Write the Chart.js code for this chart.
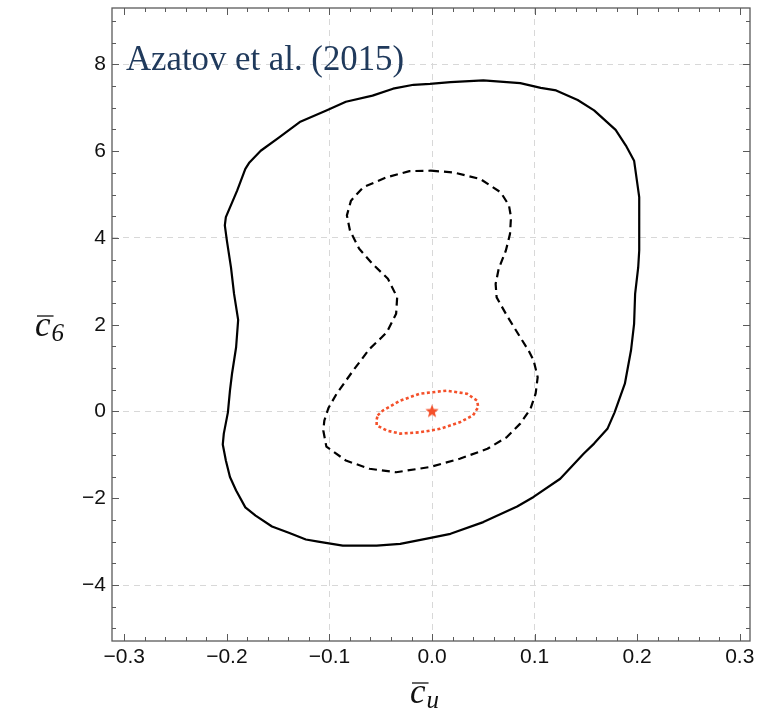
<!DOCTYPE html>
<html>
<head>
<meta charset="utf-8">
<script src="https://cdn.jsdelivr.net/npm/chart.js@4.4.1/dist/chart.umd.min.js"></script>
<style>
  html, body { margin: 0; padding: 0; background: #fff; }
</style>
</head>
<body>
<canvas id="contours" width="770" height="711"></canvas>
<script>
// ----- contour data (c_u, c_6) -----
const outerCu = [-0.002, 0.018, 0.050, 0.086, 0.106, 0.121, 0.142, 0.158, 0.179, 0.189, 0.197, 0.202, 0.202, 0.201, 0.198, 0.197, 0.194, 0.188, 0.178, 0.171, 0.158, 0.148, 0.125, 0.099, 0.083, 0.050, 0.018, -0.005, -0.031, -0.054, -0.087, -0.111, -0.123, -0.139, -0.156, -0.172, -0.182, -0.191, -0.197, -0.201, -0.204, -0.203, -0.199, -0.197, -0.195, -0.191, -0.189, -0.193, -0.196, -0.200, -0.202, -0.201, -0.190, -0.182, -0.178, -0.167, -0.149, -0.129, -0.103, -0.084, -0.058, -0.038, -0.018];
const outerC6 = [7.55, 7.59, 7.63, 7.57, 7.46, 7.40, 7.18, 6.94, 6.49, 6.13, 5.78, 4.94, 3.71, 3.32, 2.71, 2.02, 1.41, 0.64, -0.02, -0.40, -0.74, -0.97, -1.55, -1.97, -2.19, -2.55, -2.82, -2.93, -3.05, -3.09, -3.09, -3.00, -2.95, -2.80, -2.65, -2.40, -2.21, -1.82, -1.51, -1.13, -0.76, -0.51, -0.02, 0.48, 0.87, 1.48, 2.11, 2.71, 3.32, 3.94, 4.29, 4.48, 5.09, 5.59, 5.74, 6.01, 6.32, 6.67, 6.94, 7.14, 7.28, 7.44, 7.53];

const innerCu = [-0.001, 0.021, 0.047, 0.067, 0.075, 0.077, 0.076, 0.072, 0.065, 0.062, 0.063, 0.073, 0.086, 0.094, 0.099, 0.103, 0.101, 0.096, 0.086, 0.073, 0.054, 0.027, -0.002, -0.035, -0.061, -0.084, -0.103, -0.106, -0.105, -0.101, -0.093, -0.077, -0.061, -0.049, -0.044, -0.035, -0.034, -0.043, -0.058, -0.071, -0.080, -0.083, -0.079, -0.067, -0.044, -0.022];
const innerC6 = [5.55, 5.51, 5.36, 5.05, 4.75, 4.48, 4.09, 3.71, 3.29, 2.94, 2.63, 2.21, 1.71, 1.41, 1.18, 0.79, 0.41, 0.06, -0.28, -0.59, -0.86, -1.09, -1.28, -1.40, -1.32, -1.13, -0.81, -0.44, -0.21, 0.08, 0.41, 0.94, 1.44, 1.71, 1.83, 2.25, 2.63, 3.06, 3.40, 3.75, 4.17, 4.52, 4.86, 5.17, 5.40, 5.54];

const coreCu = [-0.053, -0.048, -0.031, -0.012, 0.014, 0.034, 0.044, 0.045, 0.040, 0.027, 0.008, -0.012, -0.031, -0.044, -0.054, -0.054];
const coreC6 = [-0.09, 0.02, 0.25, 0.41, 0.48, 0.41, 0.25, 0.10, -0.09, -0.25, -0.40, -0.48, -0.51, -0.44, -0.32, -0.19];

const bestCu = [0.0];
const bestC6 = [0.0];

// ----- axes -----
const xTicks = [-0.3, -0.2, -0.1, 0.0, 0.1, 0.2, 0.3];
const yTicks = [-4, -2, 0, 2, 4, 6, 8];
const xGrid  = [-0.1, 0.0, 0.1];
const yGrid  = [-4, 0, 4, 8];

const RED = '#f4502a';

function closedLoop(xs, ys) {
  const pts = xs.map(function(v, i) { return { x: v, y: ys[i] }; });
  pts.push(pts[0]);
  return pts;
}

function onGrid(v, list) {
  return list.some(function(g) { return Math.abs(g - v) < 1e-6; });
}

function minus(s) { return s.replace('-', '\u2212'); }

// filled five-pointed star used as the marker of the best fit point
function starImage(r, color) {
  const c = document.createElement('canvas');
  c.width = c.height = 2 * r + 2;
  const g = c.getContext('2d');
  g.beginPath();
  for (let i = 0; i < 10; i++) {
    const rad = i % 2 ? r * 0.42 : r;
    const a = -Math.PI / 2 + i * Math.PI / 5;
    g.lineTo(r + 1 + rad * Math.cos(a), r + 1 + rad * Math.sin(a));
  }
  g.closePath();
  g.fillStyle = color;
  g.fill();
  return c;
}

// italic c with a bar on top and a subscript
function barSymbol(ctx, x, y, sub) {
  ctx.font = 'italic 35px "Liberation Serif"';
  ctx.fillStyle = '#111';
  ctx.textAlign = 'left';
  ctx.textBaseline = 'alphabetic';
  ctx.fillText('c', x, y);
  const w = ctx.measureText('c').width;
  ctx.strokeStyle = '#111';
  ctx.lineWidth = 1.3;
  ctx.beginPath();
  ctx.moveTo(x + 2, y - 20);
  ctx.lineTo(x + w + 3, y - 20);
  ctx.stroke();
  ctx.font = 'italic 25px "Liberation Serif"';
  ctx.fillText(sub, x + w + 1, y + 5);
}

const framePlugin = {
  id: 'framePlugin',
  afterDatasetsDraw(chart) {
    const ctx = chart.ctx;
    const a = chart.chartArea;
    const xs = chart.scales.x;
    const ys = chart.scales.y;
    ctx.save();

    // plot label
    ctx.font = '36px "Liberation Serif"';
    ctx.fillStyle = '#203a5c';
    ctx.textBaseline = 'alphabetic';
    const label = 'Azatov et al. (2015)';
    const lw = ctx.measureText(label).width;
    const sx = Math.min(1, 278 / lw);
    ctx.translate(126, 70);
    ctx.scale(sx, 1);
    ctx.fillText(label, 0, 0);
    ctx.setTransform(1, 0, 0, 1, 0, 0);

    // frame
    ctx.strokeStyle = '#5a5a5a';
    ctx.lineWidth = 1.3;
    ctx.strokeRect(a.left, a.top, a.right - a.left, a.bottom - a.top);

    // inward tick marks on all four sides
    ctx.lineWidth = 1;
    ctx.beginPath();
    for (let k = Math.ceil(xs.min / 0.02); k <= Math.floor(xs.max / 0.02); k++) {
      const px = Math.round(xs.getPixelForValue(k * 0.02)) + 0.5;
      const len = k % 5 === 0 ? 7 : 4;
      ctx.moveTo(px, a.bottom); ctx.lineTo(px, a.bottom - len);
      ctx.moveTo(px, a.top);    ctx.lineTo(px, a.top + len);
    }
    for (let k = Math.ceil(ys.min / 0.5); k <= Math.floor(ys.max / 0.5); k++) {
      const py = Math.round(ys.getPixelForValue(k * 0.5)) + 0.5;
      const len = k % 4 === 0 ? 7 : 4;
      ctx.moveTo(a.left, py);  ctx.lineTo(a.left + len, py);
      ctx.moveTo(a.right, py); ctx.lineTo(a.right - len, py);
    }
    ctx.stroke();

    // axis titles
    barSymbol(ctx, 410, 703, 'u');
    barSymbol(ctx, 35, 336, '6');
    ctx.restore();
  }
};

const tickFont = { family: 'Liberation Sans', size: 21 };

new Chart(document.getElementById('contours'), {
  type: 'scatter',
  data: {
    datasets: [
      {
        data: closedLoop(outerCu, outerC6),
        showLine: true, pointRadius: 0, borderColor: '#000', borderWidth: 2.2,
        borderJoinStyle: 'round', tension: 0
      },
      {
        data: closedLoop(innerCu, innerC6),
        showLine: true, pointRadius: 0, borderColor: '#000', borderWidth: 2.2,
        borderDash: [8, 5], borderJoinStyle: 'round', tension: 0
      },
      {
        data: closedLoop(coreCu, coreC6),
        showLine: true, pointRadius: 0, borderColor: RED, borderWidth: 2.6,
        borderDash: [3, 2.5], borderJoinStyle: 'round', tension: 0
      },
      {
        data: bestCu.map(function(v, i) { return { x: v, y: bestC6[i] }; }),
        showLine: false, pointStyle: starImage(7, RED), pointRadius: 7
      }
    ]
  },
  options: {
    responsive: false,
    animation: false,
    events: [],
    layout: { padding: { top: 7, right: 20, left: 0, bottom: 0 } },
    plugins: { legend: { display: false }, tooltip: { enabled: false } },
    scales: {
      x: {
        type: 'linear', min: -0.312, max: 0.31,
        afterBuildTicks: function(s) { s.ticks = xTicks.map(function(v) { return { value: v }; }); },
        afterFit: function(s) { s.height = 70; s.paddingLeft = 0; s.paddingRight = 0; },
        ticks: {
          autoSkip: false, maxRotation: 0, padding: 4, color: '#111', font: tickFont,
          callback: function(v) { return minus(v.toFixed(1)); }
        },
        grid: {
          drawTicks: false, lineWidth: 1,
          color: function(c) { return c.tick && onGrid(c.tick.value, xGrid) ? '#d8d8d8' : 'rgba(0,0,0,0)'; }
        },
        border: { display: false, dash: [6, 5] }
      },
      y: {
        type: 'linear', min: -5.29, max: 9.30,
        afterBuildTicks: function(s) { s.ticks = yTicks.map(function(v) { return { value: v }; }); },
        afterFit: function(s) { s.width = 112; s.paddingTop = 0; s.paddingBottom = 0; },
        ticks: {
          autoSkip: false, padding: 6, color: '#111', font: tickFont,
          callback: function(v) { return minus(String(v)); }
        },
        grid: {
          drawTicks: false, lineWidth: 1,
          color: function(c) { return c.tick && onGrid(c.tick.value, yGrid) ? '#d8d8d8' : 'rgba(0,0,0,0)'; }
        },
        border: { display: false, dash: [6, 5] }
      }
    }
  },
  plugins: [framePlugin]
});
</script>
</body>
</html>
